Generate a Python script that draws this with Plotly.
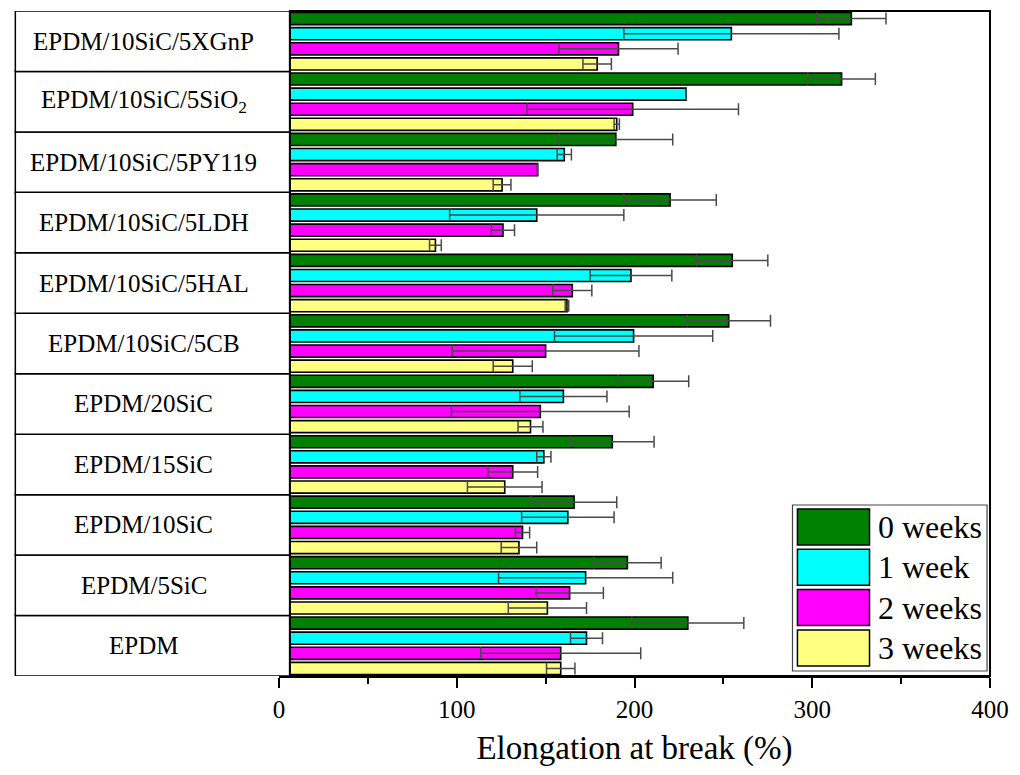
import plotly.graph_objects as go

categories = ["EPDM", "EPDM/5SiC", "EPDM/10SiC", "EPDM/15SiC", "EPDM/20SiC",
              "EPDM/10SiC/5CB", "EPDM/10SiC/5HAL", "EPDM/10SiC/5LDH",
              "EPDM/10SiC/5PY119", "EPDM/10SiC/5SiO<sub>2</sub>", "EPDM/10SiC/5XGnP"]

week0 = [230, 196, 166, 187.5, 210.5, 253, 255, 220, 189.5, 316.5, 322]
week0_err = [31.5, 19, 24, 23.5, 20, 23.5, 20, 26, 32, 19, 19.5]
week1 = [173, 172.5, 162.5, 149, 160, 199.5, 198, 145, 160.5, 229, 254.5]
week1_err = [9, 49, 26, 4, 24.5, 44.5, 23, 49, 4, 0, 60.5]
week2 = [158.5, 163.5, 137, 131.5, 147, 150, 165, 126, 145.5, 199, 191]
week2_err = [45, 19, 4, 14, 50, 52.5, 11, 6.5, 0, 59.5, 33.5]
week3 = [158.5, 151, 135, 127, 141.5, 131.5, 162, 88, 125.5, 190, 179]
week3_err = [8, 22, 10, 21, 7, 11, 1, 3.3, 5, 1.5, 8]

series_names = ["0 weeks", "1 week", "2 weeks", "3 weeks"]
series_vals = [week0, week1, week2, week3]
series_errs = [week0_err, week1_err, week2_err, week3_err]
colors = ["#008000", "#00FFFF", "#FF00FF", "#FFFF80"]

FONT = "Liberation Serif"
W, H = 1020, 775
L, R, T, B = 279, 21, 11, 99
PW, PH = W - L - R, H - T - B


def px(p):
    return (p - L) / PW


def py(p):
    return (H - B - p) / PH


fig = go.Figure()
# add in reverse so that "0 weeks" sits on top in each group
for name, vals, errs, col in reversed(list(zip(series_names, series_vals, series_errs, colors))):
    fig.add_trace(go.Bar(
        y=categories, x=vals, name=name, orientation="h",
        marker=dict(color=col, line=dict(color="black", width=1.6)),
        error_x=dict(type="data", array=errs, visible=True,
                     color="#4a4a4a", thickness=1.5, width=6),
        showlegend=False,
    ))

shapes = []
annotations = []
# label table on the left
for k, cat in enumerate(categories):
    shapes.append(dict(type="rect", xref="paper", yref="y",
                       x0=px(12), x1=px(290), y0=k - 0.5, y1=k + 0.5,
                       fillcolor="white", line=dict(color="black", width=1.5),
                       layer="above"))
    annotations.append(dict(xref="paper", yref="y", x=px(142), y=cat, text=cat,
                            showarrow=False, xanchor="center", yanchor="middle",
                            font=dict(family=FONT, size=25, color="black")))

# plot frame
shapes.append(dict(type="rect", xref="paper", yref="paper",
                   x0=px(290), x1=1.0, y0=0, y1=1,
                   line=dict(color="black", width=2), layer="above"))

# custom legend
shapes.append(dict(type="rect", xref="paper", yref="paper",
                   x0=px(799), x1=px(996), y0=py(671), y1=py(505),
                   fillcolor="white", line=dict(color="#444", width=1.2), layer="above"))
for i, (name, col) in enumerate(zip(series_names, colors)):
    top = 509 + i * 40.3
    shapes.append(dict(type="rect", xref="paper", yref="paper",
                       x0=px(804), x1=px(877), y0=py(top + 36), y1=py(top),
                       fillcolor=col, line=dict(color="black", width=1.5), layer="above"))
    annotations.append(dict(xref="paper", yref="paper", x=px(884), y=py(top + 18),
                            text=name, showarrow=False, xanchor="left", yanchor="middle",
                            font=dict(family=FONT, size=32, color="black")))

fig.update_layout(
    width=W, height=H,
    margin=dict(l=L, r=R, t=T, b=B, pad=0),
    paper_bgcolor="white", plot_bgcolor="white",
    barmode="group", bargap=0, bargroupgap=0.2,
    shapes=shapes, annotations=annotations,
    showlegend=False,
    font=dict(family=FONT, color="black"),
)
fig.update_xaxes(
    range=[0, 400], dtick=100, tick0=0,
    showline=True, linecolor="black", linewidth=2,
    ticks="outside", ticklen=10, tickwidth=2, tickcolor="black",
    minor=dict(dtick=50, ticks="outside", ticklen=6, tickwidth=2, tickcolor="black"),
    showgrid=False, zeroline=False,
    tickfont=dict(family=FONT, size=25, color="black"),
    title=dict(text="Elongation at break (%)", font=dict(family=FONT, size=33, color="black"),
               standoff=14),
)
fig.update_yaxes(
    type="category", categoryorder="array", categoryarray=categories,
    range=[-0.5, len(categories) - 0.5],
    showticklabels=False, ticks="", showgrid=False, zeroline=False, showline=False,
)

fig.write_html("out.html")
